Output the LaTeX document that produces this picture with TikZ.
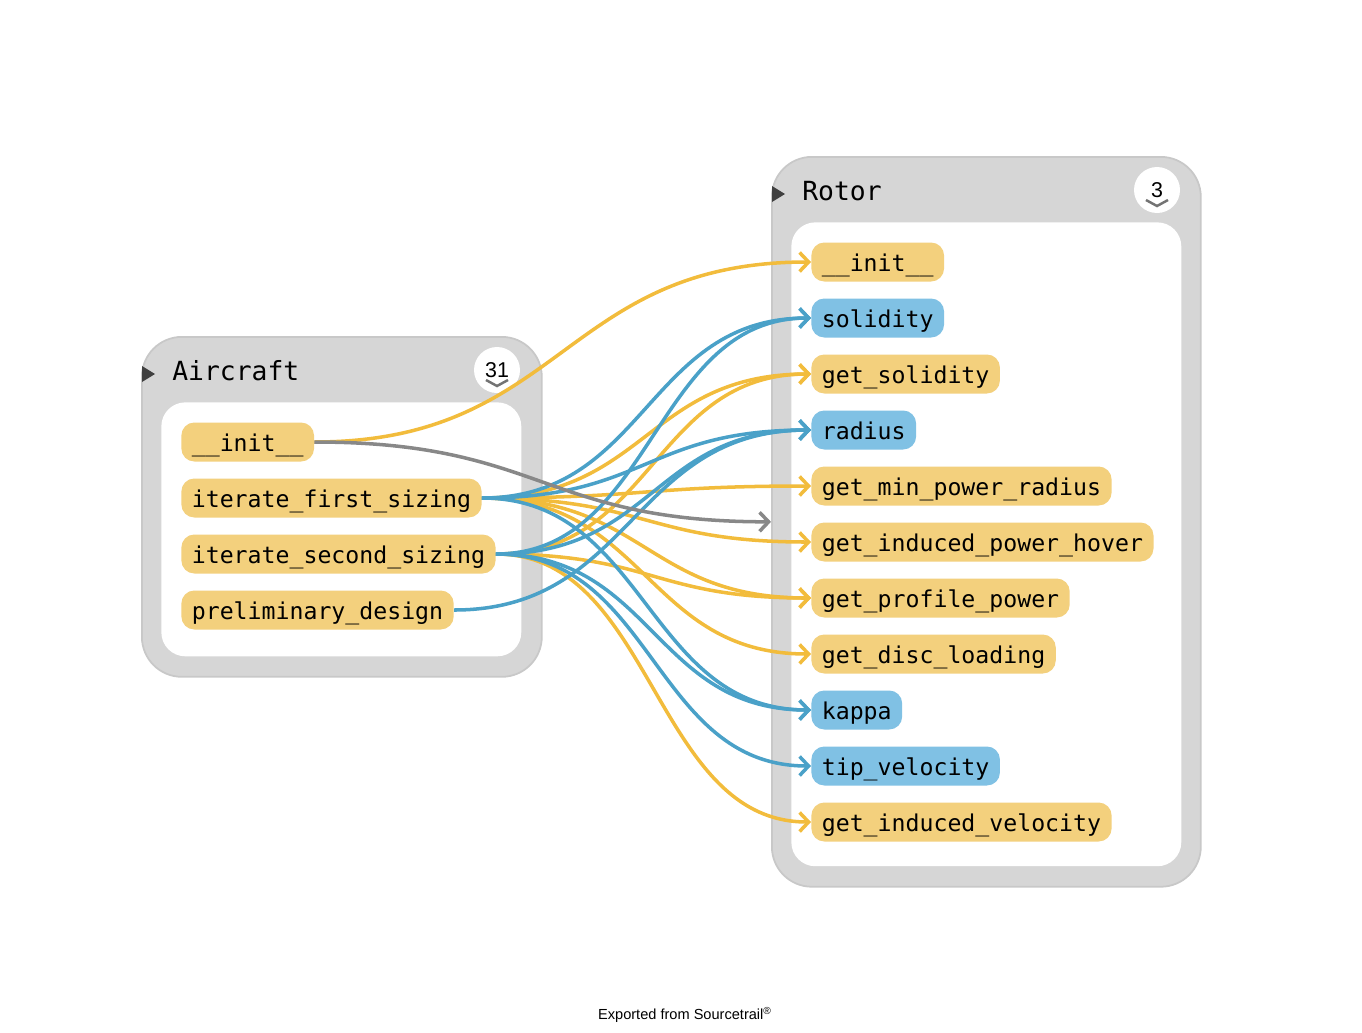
\documentclass[tikz,border=0pt]{standalone}
\usepackage{fontspec}
\usepackage{xcolor}
\usepackage{tikz}
\usetikzlibrary{arrows.meta, positioning, calc}
\newfontfamily\codefont{DejaVu Sans Mono}
\newfontfamily\uifont{Liberation Sans}
\definecolor{boxgray}{RGB}{214,214,214}
\definecolor{boxline}{RGB}{200,200,200}
\definecolor{funcfill}{RGB}{243,208,125}
\definecolor{varfill}{RGB}{128,193,228}
\definecolor{callline}{RGB}{242,188,60}
\definecolor{useline}{RGB}{74,161,200}
\definecolor{typeline}{RGB}{136,136,136}
\definecolor{marker}{RGB}{64,64,64}

\begin{document}
\begin{tikzpicture}[x=0.02cm, y=-0.02cm,
    classbox/.style={draw=boxline, line width=1pt, fill=boxgray, rounded corners=0.8cm, anchor=north west, inner sep=0pt},
    classbody/.style={fill=white, rounded corners=0.48cm, anchor=north west, inner sep=0pt},
    title/.style={font=\codefont\fontsize{15}{18}\selectfont, anchor=base west, inner sep=0pt},
    member/.style={anchor=west, rounded corners=0.26cm, minimum height=0.78cm, inner xsep=0.21cm, inner ysep=0pt,
        text height=11pt, text depth=0pt, font=\codefont\fontsize{13.2}{16}\selectfont},
    func/.style={member, fill=funcfill},
    var/.style={member, fill=varfill},
    badge/.style={circle, fill=white, minimum size=0.92cm, inner sep=0pt, text height=8.8pt, text depth=0pt,
        font=\uifont\fontsize{12.2}{14}\selectfont},
    chevron/.style={draw=black!55, line width=1.4pt},
    curve/.style={to path={let \p1=(\tikztostart), \p2=(\tikztotarget) in
        .. controls ({0.5*\x1+0.5*\x2},\y1) and ({0.5*\x1+0.5*\x2},\y2) .. (\tikztotarget)}},
    link/.style={curve, line width=2pt, -{Straight Barb[length=1.8mm, width=3.8mm]}},
    call/.style={link, draw=callline},
    use/.style={link, draw=useline},
    ref/.style={link, draw=typeline},
    ]
\useasboundingbox (0,0) rectangle (1362,1032);

% Aircraft class
\node[classbox, minimum width=8cm, minimum height=6.8cm] (aircraft) at (141,336) {};
\node[classbody, minimum width=7.2cm, minimum height=5.08cm] (aircraftbody) at (161,402) {};
\fill[marker] (142,366) -- (155,374) -- (142,382) -- cycle;
\node[title] (atitle) at (172,380) {Aircraft};
\node[badge] (acount) at (497,370) {31};
\draw[chevron] ($(acount)+(-11,10)$) -- ++(11,6) -- ++(11,-6);

\node[func] (ainit) at (181,442) {\_\_init\_\_};
\node[func] (afirst) at (181,498) {iterate\_first\_sizing};
\node[func] (asecond) at (181,554) {iterate\_second\_sizing};
\node[func] (aprelim) at (181,610) {preliminary\_design};

% Rotor class
\node[classbox, minimum width=8.58cm, minimum height=14.6cm] (rotor) at (771,156) {};
\node[classbody, minimum width=7.8cm, minimum height=12.88cm] (rotorbody) at (791,222) {};
\fill[marker] (772,186) -- (785,194) -- (772,202) -- cycle;
\node[title] (rtitle) at (802,200) {Rotor};
\node[badge] (rcount) at (1157,190) {3};
\draw[chevron] ($(rcount)+(-11,10)$) -- ++(11,6) -- ++(11,-6);

\node[func] (rinit) at (811,262) {\_\_init\_\_};
\node[var] (solidity) at (811,318) {solidity};
\node[func] (getsolidity) at (811,374) {get\_solidity};
\node[var] (radius) at (811,430) {radius};
\node[func] (minpower) at (811,486) {get\_min\_power\_radius};
\node[func] (hover) at (811,542) {get\_induced\_power\_hover};
\node[func] (profile) at (811,598) {get\_profile\_power};
\node[func] (disc) at (811,654) {get\_disc\_loading};
\node[var] (kappa) at (811,710) {kappa};
\node[var] (tipvel) at (811,766) {tip\_velocity};
\node[func] (inducedvel) at (811,822) {get\_induced\_velocity};

% calls
\draw[call] (ainit.east) to (rinit.west);
\draw[call] (afirst.east) to (getsolidity.west);
\draw[call] (asecond.east) to (getsolidity.west);
\draw[call] (afirst.east) to (minpower.west);
\draw[call] (afirst.east) to (hover.west);
\draw[call] (afirst.east) to (profile.west);
\draw[call] (asecond.east) to (profile.west);
\draw[call] (afirst.east) to (disc.west);
\draw[call] (asecond.east) to (inducedvel.west);

% member usage
\draw[use] (afirst.east) to (solidity.west);
\draw[use] (asecond.east) to (solidity.west);
\draw[use] (afirst.east) to (radius.west);
\draw[use] (asecond.east) to (radius.west);
\draw[use] (aprelim.east) to (radius.west);
\draw[use] (afirst.east) to (kappa.west);
\draw[use] (asecond.east) to (kappa.west);
\draw[use] (asecond.east) to (tipvel.west);

% type usage
\draw[ref] (ainit.east) to (rotor.west);

\node[font=\uifont\fontsize{8.3}{10}\selectfont, anchor=base] (credit) at (685,1019)
    {Exported from Sourcetrail\textsuperscript{\textregistered}};
\end{tikzpicture}
\end{document}
